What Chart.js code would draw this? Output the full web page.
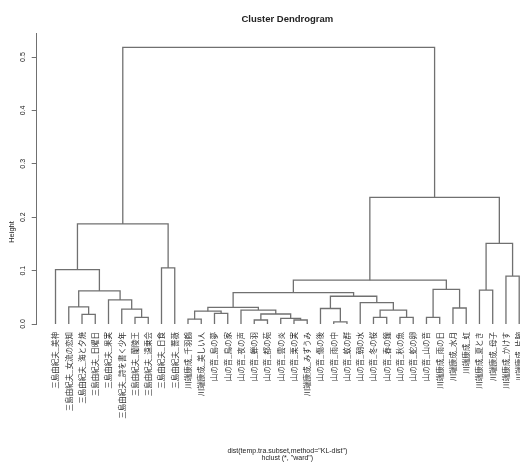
<!DOCTYPE html>
<html>
<head>
<meta charset="utf-8">
<script src="https://cdn.jsdelivr.net/npm/chart.js@4.4.1/dist/chart.umd.min.js"></script>
<style>
  html, body { margin: 0; padding: 0; background: #fff; }
  #dendro { display: block; }
</style>
</head>
<body>
<canvas id="dendro" width="520" height="464"></canvas>
<script>
// leaves, in the order they are drawn from left to right
const leafNames = [
  '三島由紀夫_美神', '三島由紀夫_女流の恋知', '三島由紀夫_海と夕焼', '三島由紀夫_日曜日',
  '三島由紀夫_果実', '三島由紀夫_詩を書く少年', '三島由紀夫_蘭陵王', '三島由紀夫_遠乗会',
  '三島由紀夫_日食', '三島由紀夫_薔薇',
  '川端康成_千羽鶴', '川端康成_美しい人',
  '山の音_島の夢', '山の音_鳥の家', '山の音_夜の声', '山の音_蝉の羽', '山の音_都の苑',
  '山の音_雲の炎', '山の音_栗の実', '川端康成_みずうみ',
  '山の音_傷の後', '山の音_雨の中', '山の音_蚊の群', '山の音_朝の水', '山の音_冬の桜',
  '山の音_春の鐘', '山の音_秋の魚', '山の音_蛇の卵', '山の音_山の音',
  '川端康成_雨の日', '川端康成_水月', '川端康成_虹', '川端康成_夏とき',
  '川端康成_母子', '川端康成_かけす', '川端康成_片腕'
];

// merge steps like hclust$merge: negative = leaf number (1-based), positive = earlier step
const mergeLeft  = [-7, -3, -6, -2, -5, 4, -1, -9, 7,
                    -11, -13, 10, -16, -19, -18, 13, -15, 12, -22, -21, -25, -27, 21, -24, 20, 18,
                    -29, -31, 27, 26, -33, -35, 31, 30, 9];
const mergeRight = [-8, -4, 1, 2, 3, 5, 6, -10, 8,
                    -12, -14, 11, -17, -20, 14, 15, 16, 17, -23, 19, -26, -28, 22, 23, 24, 25,
                    -30, -32, 28, 29, -34, -36, 32, 33, 34];
const mergeHeight = [0.0125, 0.018, 0.028, 0.032, 0.045, 0.062, 0.102, 0.105, 0.1875,
                     0.009, 0.020, 0.024, 0.0075, 0.0075, 0.0106, 0.0187, 0.026, 0.031,
                     0.004, 0.029, 0.0125, 0.0125, 0.026, 0.040, 0.052, 0.0586,
                     0.0125, 0.030, 0.065, 0.082, 0.0636, 0.0897, 0.151, 0.237, 0.518];

const yTicks = [0, 0.1, 0.2, 0.3, 0.4, 0.5];
const mainTitle = 'Cluster Dendrogram';
const subLines = ['dist(temp.tra.subset,method="KL-dist")', 'hclust (*, "ward")'];
const yTitle = 'Height';

// x of a merge = mean of its two children, leaves sit at their index
const nodeX = [], nodeH = [];
function child(c) {
  if (c < 0) return { x: -c - 1, h: 0 };
  return { x: nodeX[c - 1], h: nodeH[c - 1] };
}
const datasets = [];
mergeHeight.forEach((h, k) => {
  const a = child(mergeLeft[k]);
  const b = child(mergeRight[k]);
  nodeX[k] = (a.x + b.x) / 2;
  nodeH[k] = h;
  datasets.push({
    data: [{ x: a.x, y: a.h }, { x: a.x, y: h }, { x: b.x, y: h }, { x: b.x, y: b.h }],
    borderColor: '#707070',
    borderWidth: 1.3,
    pointRadius: 0,
    tension: 0,
    fill: false
  });
});

const rText = {
  id: 'rText',
  afterDraw(chart) {
    const { ctx, scales: { x, y } } = chart;
    const cx = x.getPixelForValue((leafNames.length - 1) / 2);
    ctx.save();
    ctx.fillStyle = '#222';
    ctx.textAlign = 'center';
    ctx.textBaseline = 'middle';
    ctx.font = 'bold 9.5px "Liberation Sans"';
    ctx.fillText(mainTitle, cx, 19.5);
    ctx.font = '7px "Liberation Sans"';
    ctx.fillText(subLines[0], cx, 451);
    ctx.fillText(subLines[1], cx, 458);
    yTicks.forEach(v => {
      ctx.save();
      ctx.translate(23, y.getPixelForValue(v));
      ctx.rotate(-Math.PI / 2);
      ctx.fillText(v.toFixed(1), 0, 0);
      ctx.restore();
    });
    ctx.font = '7.5px "Liberation Sans"';
    ctx.translate(12, 232);
    ctx.rotate(-Math.PI / 2);
    ctx.fillText(yTitle, 0, 0);
    ctx.restore();
  }
};

new Chart(document.getElementById('dendro'), {
  type: 'line',
  data: { datasets },
  options: {
    responsive: false,
    animation: false,
    devicePixelRatio: 1,
    layout: { padding: { top: 33, left: 0, right: 0, bottom: 0 } },
    plugins: { legend: { display: false }, title: { display: false }, tooltip: { enabled: false } },
    scales: {
      x: {
        type: 'linear',
        min: -1.42,
        max: 35.06,
        grid: { display: false, drawTicks: false },
        border: { display: false },
        afterBuildTicks: s => { s.ticks = leafNames.map((n, i) => ({ value: i })); },
        afterFit: s => { s.height = 140; s.paddingLeft = 0; s.paddingRight = 0; },
        ticks: {
          autoSkip: false,
          minRotation: 90,
          maxRotation: 90,
          padding: 8,
          color: '#333',
          font: { family: '"Noto Sans CJK JP"', size: 7.5 },
          callback: v => leafNames[v]
        }
      },
      y: {
        type: 'linear',
        min: 0,
        max: 0.545,
        afterBuildTicks: s => { s.ticks = yTicks.map(v => ({ value: v })); },
        afterFit: s => { s.width = 36.7; s.paddingTop = 0; s.paddingBottom = 0; },
        grid: { drawOnChartArea: false, drawTicks: true, tickLength: 5, color: '#707070' },
        border: { display: true, color: '#707070', width: 1 },
        ticks: { display: false }
      }
    }
  },
  plugins: [rText]
});
</script>
</body>
</html>
